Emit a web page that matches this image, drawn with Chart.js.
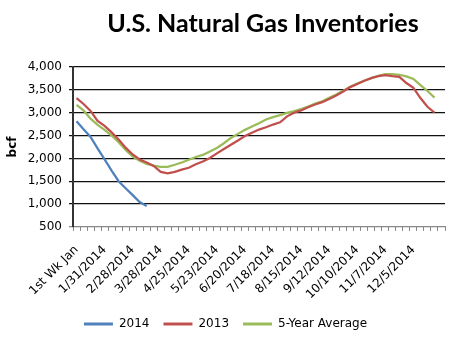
<!DOCTYPE html>
<html>
<head>
<meta charset="utf-8">
<script src="https://cdn.jsdelivr.net/npm/chart.js@4/dist/chart.umd.min.js"></script>
<style>
html, body { margin: 0; padding: 0; background: #fff; }
</style>
</head>
<body>
<canvas id="gasChart" width="470" height="348"></canvas>
<script>
// weekly storage report dates, 1st week of Jan 2014 to 1st week of Jan 2015
var weeks = ["1st Wk Jan", "1/10/2014", "1/17/2014", "1/24/2014", "1/31/2014",
	"2/7/2014", "2/14/2014", "2/21/2014", "2/28/2014", "3/7/2014", "3/14/2014", "3/21/2014", "3/28/2014",
	"4/4/2014", "4/11/2014", "4/18/2014", "4/25/2014", "5/2/2014", "5/9/2014", "5/16/2014", "5/23/2014", "5/30/2014",
	"6/6/2014", "6/13/2014", "6/20/2014", "6/27/2014", "7/4/2014", "7/11/2014", "7/18/2014", "7/25/2014",
	"8/1/2014", "8/8/2014", "8/15/2014", "8/22/2014", "8/29/2014", "9/5/2014", "9/12/2014", "9/19/2014", "9/26/2014",
	"10/3/2014", "10/10/2014", "10/17/2014", "10/24/2014", "10/31/2014", "11/7/2014", "11/14/2014", "11/21/2014", "11/28/2014",
	"12/5/2014", "12/12/2014", "12/19/2014", "12/26/2014", "1/2/2015"];

var inv2014 = [2810, 2640, 2470, 2220, 1980, 1730, 1500, 1345, 1195, 1045, 955];

var inv2013 = [3320, 3190, 3040, 2820, 2710, 2570, 2415, 2235, 2085, 1975,
	1910, 1835, 1705, 1670, 1705, 1755, 1795, 1870, 1930, 2010,
	2110, 2205, 2300, 2390, 2490, 2560, 2630, 2680, 2740, 2790,
	2920, 3000, 3050, 3120, 3180, 3230, 3300, 3375, 3465, 3560,
	3630, 3700, 3755, 3800, 3820, 3800, 3785, 3650, 3545, 3320,
	3130, 3000];

var avg5yr = [3170, 3050, 2870, 2735, 2625, 2500, 2355, 2185, 2040, 1950,
	1880, 1840, 1815, 1815, 1860, 1910, 1970, 2030, 2075, 2148,
	2229, 2331, 2448, 2536, 2624, 2697, 2770, 2851, 2902, 2946,
	2997, 3034, 3078, 3136, 3200, 3250, 3324, 3397, 3478, 3566,
	3640, 3699, 3757, 3809, 3846, 3846, 3830, 3794, 3740, 3605,
	3475, 3330];

var chartTitle = "U.S. Natural Gas Inventories";
var tickFont = { family: "DejaVu Sans", size: 12 };

function series(label, values, color) {
	return {
		label: label,
		data: values,
		borderColor: color,
		backgroundColor: color,
		borderWidth: 2.25,
		pointRadius: 0,
		tension: 0,
		fill: false
	};
}

// title drawn by hand: Excel centres it off the canvas middle
var titlePlugin = {
	id: "bigTitle",
	afterDraw: function(chart) {
		var c = chart.ctx;
		c.save();
		c.font = "bold 25px Lato, sans-serif";
		c.fillStyle = "#000";
		c.textAlign = "center";
		c.textBaseline = "alphabetic";
		c.fillText(chartTitle, 263, 32);
		c.restore();
	}
};

var ctx = document.getElementById("gasChart");
var gasChart = new Chart(ctx, {
	type: "line",
	data: {
		labels: weeks,
		datasets: [
			series("2014", inv2014, "#4F81BD"),
			series("2013", inv2013, "#C0504D"),
			series("5-Year Average", avg5yr, "#9BBB59")
		]
	},
	plugins: [titlePlugin],
	options: {
		responsive: false,
		animation: false,
		layout: { padding: { left: 6, right: 25, top: 67, bottom: 8 } },
		plugins: {
			legend: {
				position: "bottom",
				labels: {
					color: "#000",
					font: tickFont,
					boxWidth: 29,
					boxHeight: 3,
					padding: 14,
					generateLabels: function(chart) {
						var items = Chart.defaults.plugins.legend.labels.generateLabels(chart);
						items.forEach(function(it) { it.lineWidth = 0; });
						return items;
					}
				}
			},
			tooltip: { enabled: false }
		},
		scales: {
			x: {
				offset: true,
				afterFit: function(s) { s.height -= 10; },
				grid: {
					offset: true,
					drawOnChartArea: false,
					drawTicks: true,
					tickLength: 4,
					color: "#888"
				},
				border: { display: true, color: "#888", width: 1 },
				ticks: {
					autoSkip: false,
					minRotation: 45,
					maxRotation: 45,
					padding: 12,
					color: "#000",
					font: tickFont,
					callback: function(val, i) {
						return (i % 4 === 0 && i < 52) ? weeks[i] : "";
					}
				}
			},
			y: {
				min: 500,
				max: 4000,
				afterFit: function(s) { s.width = 67; },
				grid: {
					color: function(c) { return (c.tick && c.tick.value === 500) ? "#888" : "#111"; },
					lineWidth: 1.25,
					tickLength: 4
				},
				border: { display: true, color: "#333", width: 2 },
				ticks: {
					stepSize: 500,
					padding: 7,
					color: "#000",
					font: tickFont,
					callback: function(v) { return v.toLocaleString("en-US"); }
				},
				title: {
					display: true,
					text: "bcf",
					color: "#000",
					font: { family: "DejaVu Sans", size: 12, weight: "bold" },
					padding: { top: 0, bottom: 6 }
				}
			}
		}
	}
});
</script>
</body>
</html>
